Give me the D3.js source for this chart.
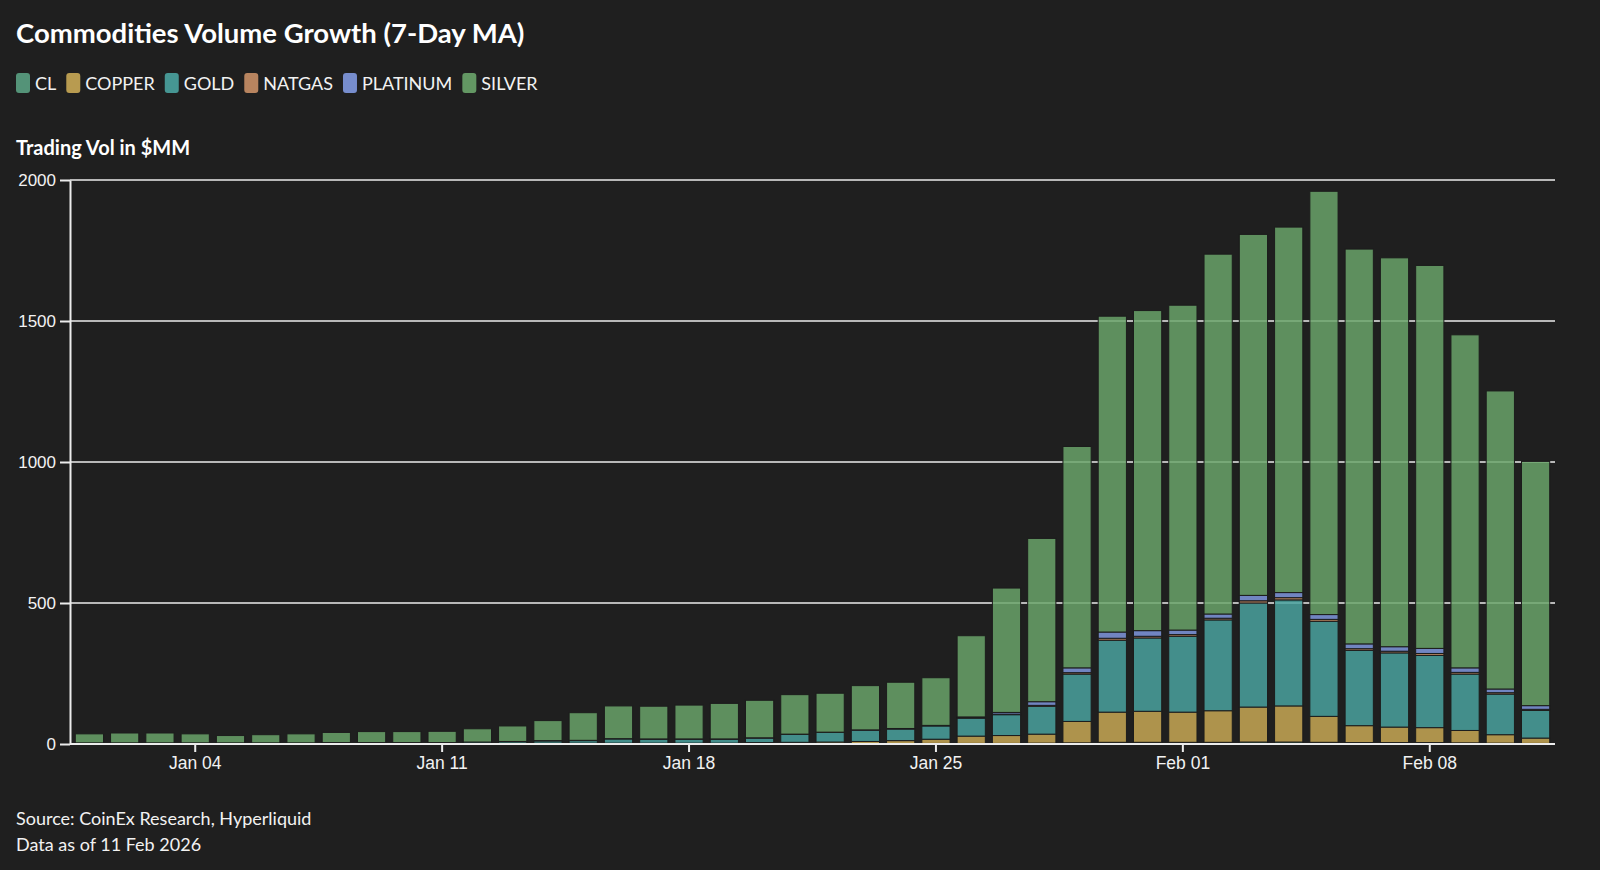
<!DOCTYPE html>
<html>
<head>
<meta charset="utf-8">
<script src="https://cdn.jsdelivr.net/npm/d3@7"></script>
<style>
  body { margin: 0; background: #1f1f1f; }
  svg { display: block; font-family: "Source Sans Pro", Lato, "Noto Sans", sans-serif; }
  .tick text { fill: #f2f2f2; }
</style>
</head>
<body>
<svg id="chart" width="1600" height="870"></svg>
<script>
// days, Jan 01 .. Feb 11 2026
let dates = d3.timeDays(new Date(2026, 0, 1), new Date(2026, 1, 12));
let keys = ['CL', 'COPPER', 'GOLD', 'NATGAS', 'PLATINUM', 'SILVER'];
let colors = {CL: '#5aa082', COPPER: '#c9a955', GOLD: '#4aa3a0', NATGAS: '#c98f66', PLATINUM: '#8199e0', SILVER: '#6aa46a'};

// 7-day MA volume, $MM
let cl       = [1,1,1,1,1,1,1,1,1,1,1,1,1,1,1,1,1,1,1,1,1,1,1,1,2,2,2,3,4,6,6,6,6,7,7,6,5,5,5,4,3,2];
let copper   = [1,1,1,1,1,1,1,1,1,1,1,1,1,2,2,2,2,2,2,4,5,6,8,11,15,26,28,32,76,107,110,107,112,124,128,92,60,55,53,44,30,19];
let gold     = [2,2,2,2,2,2,2,3,3,3,3,5,6,8,9,15,14,14,14,16,28,34,40,41,47,64,74,99,168,255,260,269,322,369,376,337,267,263,256,200,144,98];
let natgas   = [0,0,0,0,0,0,0,0,0,0,0,0,0,0,0,0,0,0,0,0,0,0,0,0,0,1,2,3,5,7,6,6,6,8,8,7,6,6,7,6,5,4];
let platinum = [0,0,0,0,0,0,0,0,0,0,0,0,1,1,1,1,1,1,1,1,1,1,1,2,2,3,6,13,17,22,20,16,15,19,18,17,17,16,18,16,13,13];
let silver   = [32,35,35,32,26,29,32,36,39,39,40,47,55,71,98,116,116,120,126,133,140,138,157,164,169,288,441,579,785,1120,1135,1152,1276,1280,1296,1501,1400,1379,1358,1181,1057,866];

let yTicks = [0, 500, 1000, 1500, 2000];
let xTicks = [new Date(2026, 0, 4), new Date(2026, 0, 11), new Date(2026, 0, 18),
              new Date(2026, 0, 25), new Date(2026, 1, 1), new Date(2026, 1, 8)];

let rows = dates.map((d, i) => ({
    date: d, CL: cl[i], COPPER: copper[i], GOLD: gold[i],
    NATGAS: natgas[i], PLATINUM: platinum[i], SILVER: silver[i]
}));

let svg = d3.select('#chart');
let plot = {left: 70, right: 1555, top: 180, bottom: 744};

let xScale = d3.scaleBand().domain(dates).range([plot.left, plot.right]).paddingInner(0.2).paddingOuter(0.15);
let yScale = d3.scaleLinear().domain([0, 2000]).range([plot.bottom, plot.top]);

// title + legend
svg.append('text').attr('x', 16).attr('y', 43)
    .attr('fill', '#fff').attr('font-size', 27.5).attr('font-weight', 700)
    .text('Commodities Volume Growth (7-Day MA)');

let lx = 16;
keys.forEach(k => {
    svg.append('rect').attr('x', lx).attr('y', 73).attr('width', 14).attr('height', 20)
        .attr('rx', 3).attr('fill', colors[k]).attr('fill-opacity', 0.9);
    let t = svg.append('text').attr('x', lx + 19).attr('y', 89.5)
        .attr('fill', '#f2f2f2').attr('font-size', 18).text(k);
    lx += 19 + t.node().getComputedTextLength() + 10;
});

svg.append('text').attr('x', 16).attr('y', 155)
    .attr('fill', '#fff').attr('font-size', 20).attr('font-weight', 700)
    .text('Trading Vol in $MM');

// grid lines
svg.append('g').selectAll('line')
    .data(yTicks.filter(d => d > 0))
    .enter().append('line')
    .attr('x1', plot.left).attr('x2', plot.right)
    .attr('y1', d => yScale(d)).attr('y2', d => yScale(d))
    .attr('stroke', '#ececec').attr('stroke-width', 1.6);

// bars
let series = d3.stack().keys(keys)(rows);
svg.append('g').selectAll('g')
    .data(series)
    .enter().append('g')
    .attr('fill', d => colors[d.key])
    .selectAll('rect')
    .data(d => d)
    .enter().append('rect')
    .attr('x', d => xScale(d.data.date))
    .attr('width', xScale.bandwidth())
    .attr('y', d => yScale(d[1]))
    .attr('height', d => Math.max(0, yScale(d[0]) - yScale(d[1])))
    .attr('fill-opacity', 0.84)
    .attr('stroke', '#1c1c1c').attr('stroke-width', 1);

// y axis
let yAxis = svg.append('g')
    .attr('transform', 'translate(' + plot.left + ',0)')
    .call(d3.axisLeft(yScale).tickValues(yTicks).tickFormat(d3.format('d'))
        .tickSize(10).tickSizeOuter(0).tickPadding(4));
yAxis.selectAll('text').attr('font-size', 17).attr('font-family', null);
yAxis.selectAll('line, path').attr('stroke', '#ececec').attr('stroke-width', 2);

// x axis
let xAxis = svg.append('g')
    .attr('transform', 'translate(0,' + plot.bottom + ')')
    .call(d3.axisBottom(xScale).tickValues(xTicks).tickSize(8).tickSizeOuter(0)
        .tickFormat(d3.timeFormat('%b %d')).tickPadding(5));
xAxis.select('.domain').attr('d', 'M' + plot.left + ',0H' + plot.right);
xAxis.selectAll('text').attr('font-size', 17.5).attr('font-family', null);
xAxis.selectAll('line, path').attr('stroke', '#ececec').attr('stroke-width', 2);

// source
svg.append('text').attr('x', 16).attr('y', 825)
    .attr('fill', '#f2f2f2').attr('font-size', 18)
    .text('Source: CoinEx Research, Hyperliquid');
svg.append('text').attr('x', 16).attr('y', 851)
    .attr('fill', '#f2f2f2').attr('font-size', 18)
    .text('Data as of 11 Feb 2026');
</script>
</body>
</html>
